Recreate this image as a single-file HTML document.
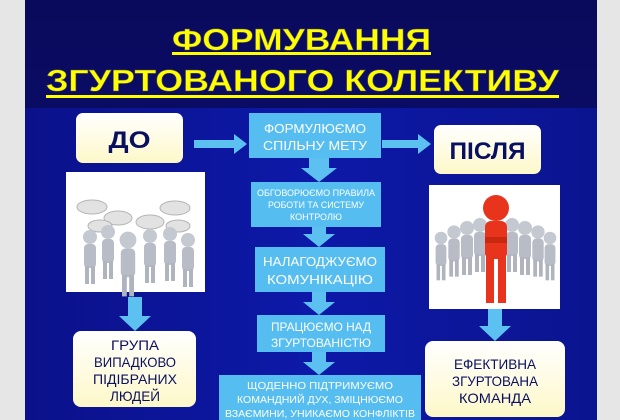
<!DOCTYPE html>
<html><head><meta charset="utf-8"><style>
html,body{margin:0;padding:0;background:#e6e6e6;}
svg{display:block}
text{font-family:"Liberation Sans",sans-serif;}
</style></head><body>
<svg width="620" height="420" viewBox="0 0 620 420" xmlns="http://www.w3.org/2000/svg">
<defs>
<linearGradient id="bg" x1="0" y1="0" x2="0" y2="1">
<stop offset="0" stop-color="#0a0a5c"/><stop offset="1" stop-color="#0c0f78"/></linearGradient>
<linearGradient id="bg2" x1="0" y1="0" x2="1" y2="0">
<stop offset="0" stop-color="#0b118a"/><stop offset="0.5" stop-color="#0d19a8"/><stop offset="1" stop-color="#0b148f"/></linearGradient>
<linearGradient id="cream" x1="0" y1="0" x2="0" y2="1">
<stop offset="0" stop-color="#ffffff"/><stop offset="1" stop-color="#fdf8c8"/></linearGradient>
<g id="ga"><circle cx="0" cy="0" r="7" fill="#c4c8d0"/><rect x="-6" y="7" width="12" height="24" rx="4" fill="#b8bcc6"/><rect x="-5" y="29" width="4" height="18" fill="#b0b4be"/><rect x="1" y="29" width="4" height="18" fill="#b0b4be"/></g>
</defs>
<rect x="25" y="0" width="572" height="420" fill="url(#bg)"/>
<rect x="25" y="108" width="572" height="312" fill="url(#bg2)"/>
<!-- title -->
<g font-weight="bold" fill="#ffff00" stroke="#555" stroke-width="0.5">
<text x="172" y="50" font-size="31" textLength="259" lengthAdjust="spacingAndGlyphs">ФОРМУВАННЯ</text>
<text x="46" y="91" font-size="31" textLength="513" lengthAdjust="spacingAndGlyphs">ЗГУРТОВАНОГО КОЛЕКТИВУ</text>
</g>
<rect x="172" y="52" width="259" height="3" fill="#ffff00"/>
<rect x="46" y="95" width="513" height="3" fill="#ffff00"/>
<!-- ДО / ПІСЛЯ -->
<rect x="76" y="113" width="107" height="50" rx="7" fill="url(#cream)"/>
<text x="129.5" y="148" font-size="24" font-weight="bold" fill="#0a1060" text-anchor="middle" textLength="42" lengthAdjust="spacingAndGlyphs">ДО</text>
<rect x="434" y="125" width="107" height="49" rx="7" fill="url(#cream)"/>
<text x="487.5" y="159" font-size="24" font-weight="bold" fill="#0a1060" text-anchor="middle" textLength="76" lengthAdjust="spacingAndGlyphs">ПІСЛЯ</text>
<!-- horizontal arrows -->
<g fill="#5cc0f0">
<polygon points="194,140 234,140 234,134 247,144 234,154 234,148 194,148"/>
<polygon points="382,140 418,140 418,134 431,144 418,154 418,148 382,148"/>
</g>
<!-- center boxes -->
<g fill="#55bdf0">
<rect x="249" y="113" width="132" height="45"/>
<rect x="251" y="182" width="130" height="45"/>
<rect x="255" y="247" width="130" height="45"/>
<rect x="257" y="315" width="128" height="37"/>
<rect x="219" y="375" width="202" height="45"/>
</g>
<!-- down arrows -->
<g fill="#5cc0f0">
<polygon points="309,158 329,158 329,168 337,168 319,182 301,168 309,168"/>
<polygon points="312,227 326,227 326,234 335,234 319,247 303,234 312,234"/>
<polygon points="312,292 326,292 326,302 335,302 319,315 303,302 312,302"/>
<polygon points="312,352 326,352 326,362 335,362 319,375 303,362 312,362"/>
<polygon points="128,297 142,297 142,316 151,316 135,331 119,316 128,316"/>
<polygon points="488,309 502,309 502,326 511,326 495,341 479,326 488,326"/>
</g>
<g fill="#ffffff" text-anchor="middle">
<text x="315" y="133" font-size="12.5" textLength="102" lengthAdjust="spacingAndGlyphs">ФОРМУЛЮЄМО</text>
<text x="315" y="150" font-size="12.5" textLength="104" lengthAdjust="spacingAndGlyphs">СПІЛЬНУ МЕТУ</text>
<text x="316" y="196" font-size="9" textLength="118" lengthAdjust="spacingAndGlyphs">ОБГОВОРЮЄМО ПРАВИЛА</text>
<text x="316" y="208" font-size="9" textLength="96" lengthAdjust="spacingAndGlyphs">РОБОТИ ТА СИСТЕМУ</text>
<text x="316" y="220" font-size="9" textLength="52" lengthAdjust="spacingAndGlyphs">КОНТРОЛЮ</text>
<text x="320" y="266" font-size="13" textLength="114" lengthAdjust="spacingAndGlyphs">НАЛАГОДЖУЄМО</text>
<text x="320" y="284" font-size="13" textLength="106" lengthAdjust="spacingAndGlyphs">КОМУНІКАЦІЮ</text>
<text x="321" y="331" font-size="12" textLength="100" lengthAdjust="spacingAndGlyphs">ПРАЦЮЄМО НАД</text>
<text x="321" y="347" font-size="12" textLength="100" lengthAdjust="spacingAndGlyphs">ЗГУРТОВАНІСТЮ</text>
<text x="320" y="389" font-size="10.5" textLength="146" lengthAdjust="spacingAndGlyphs">ЩОДЕННО ПІДТРИМУЄМО</text>
<text x="320" y="403" font-size="10.5" textLength="166" lengthAdjust="spacingAndGlyphs">КОМАНДНИЙ ДУХ, ЗМІЦНЮЄМО</text>
<text x="320" y="417" font-size="10.5" textLength="190" lengthAdjust="spacingAndGlyphs">ВЗАЄМИНИ, УНИКАЄМО КОНФЛІКТІВ</text>
</g>
<!-- bottom result boxes -->
<rect x="73" y="331" width="123" height="76" rx="8" fill="url(#cream)"/>
<rect x="425" y="341" width="140" height="76" rx="8" fill="url(#cream)"/>
<g fill="#0a1060" text-anchor="middle" font-size="14">
<text x="135" y="350" textLength="48" lengthAdjust="spacingAndGlyphs">ГРУПА</text>
<text x="135" y="367" textLength="82" lengthAdjust="spacingAndGlyphs">ВИПАДКОВО</text>
<text x="135" y="384" textLength="84" lengthAdjust="spacingAndGlyphs">ПІДІБРАНИХ</text>
<text x="135" y="401" textLength="50" lengthAdjust="spacingAndGlyphs">ЛЮДЕЙ</text>
<text x="495" y="369" textLength="82" lengthAdjust="spacingAndGlyphs">ЕФЕКТИВНА</text>
<text x="495" y="386" textLength="86" lengthAdjust="spacingAndGlyphs">ЗГУРТОВАНА</text>
<text x="495" y="403" textLength="72" lengthAdjust="spacingAndGlyphs">КОМАНДА</text>
</g>
<!-- left picture -->
<rect x="66" y="172" width="139" height="120" fill="#ffffff"/>
<g fill="#e2e2e2" stroke="#b5b5b5" stroke-width="1">
<ellipse cx="92" cy="207" rx="15" ry="7"/><ellipse cx="118" cy="218" rx="14" ry="7"/>
<ellipse cx="175" cy="208" rx="15" ry="7"/><ellipse cx="150" cy="222" rx="14" ry="7"/>
<ellipse cx="100" cy="226" rx="12" ry="6"/><ellipse cx="178" cy="226" rx="12" ry="6"/>
</g>
<g transform="translate(90,237)"><use href="#ga"/></g>
<g transform="translate(108,232)"><use href="#ga"/></g>
<g transform="translate(128,240) scale(1.2)"><use href="#ga"/></g>
<g transform="translate(150,236)"><use href="#ga"/></g>
<g transform="translate(170,234)"><use href="#ga"/></g>
<g transform="translate(188,240)"><use href="#ga"/></g>
<!-- right picture -->
<rect x="429" y="185" width="131" height="124" fill="#ffffff"/>
<g transform="translate(441,238) scale(0.9)"><use href="#ga"/></g>
<g transform="translate(454,232) scale(0.95)"><use href="#ga"/></g>
<g transform="translate(467,228)"><use href="#ga"/></g>
<g transform="translate(480,225)"><use href="#ga"/></g>
<g transform="translate(512,225)"><use href="#ga"/></g>
<g transform="translate(525,228)"><use href="#ga"/></g>
<g transform="translate(538,232) scale(0.95)"><use href="#ga"/></g>
<g transform="translate(550,238) scale(0.9)"><use href="#ga"/></g>
<g fill="#e8341c">
<circle cx="496" cy="208" r="13"/>
<rect x="485" y="221" width="22" height="38" rx="6"/>
<rect x="486" y="255" width="8" height="48"/>
<rect x="498" y="255" width="8" height="48"/>
</g>
<rect x="485" y="237" width="22" height="6" fill="#c8280f"/>
</svg>
</body></html>
